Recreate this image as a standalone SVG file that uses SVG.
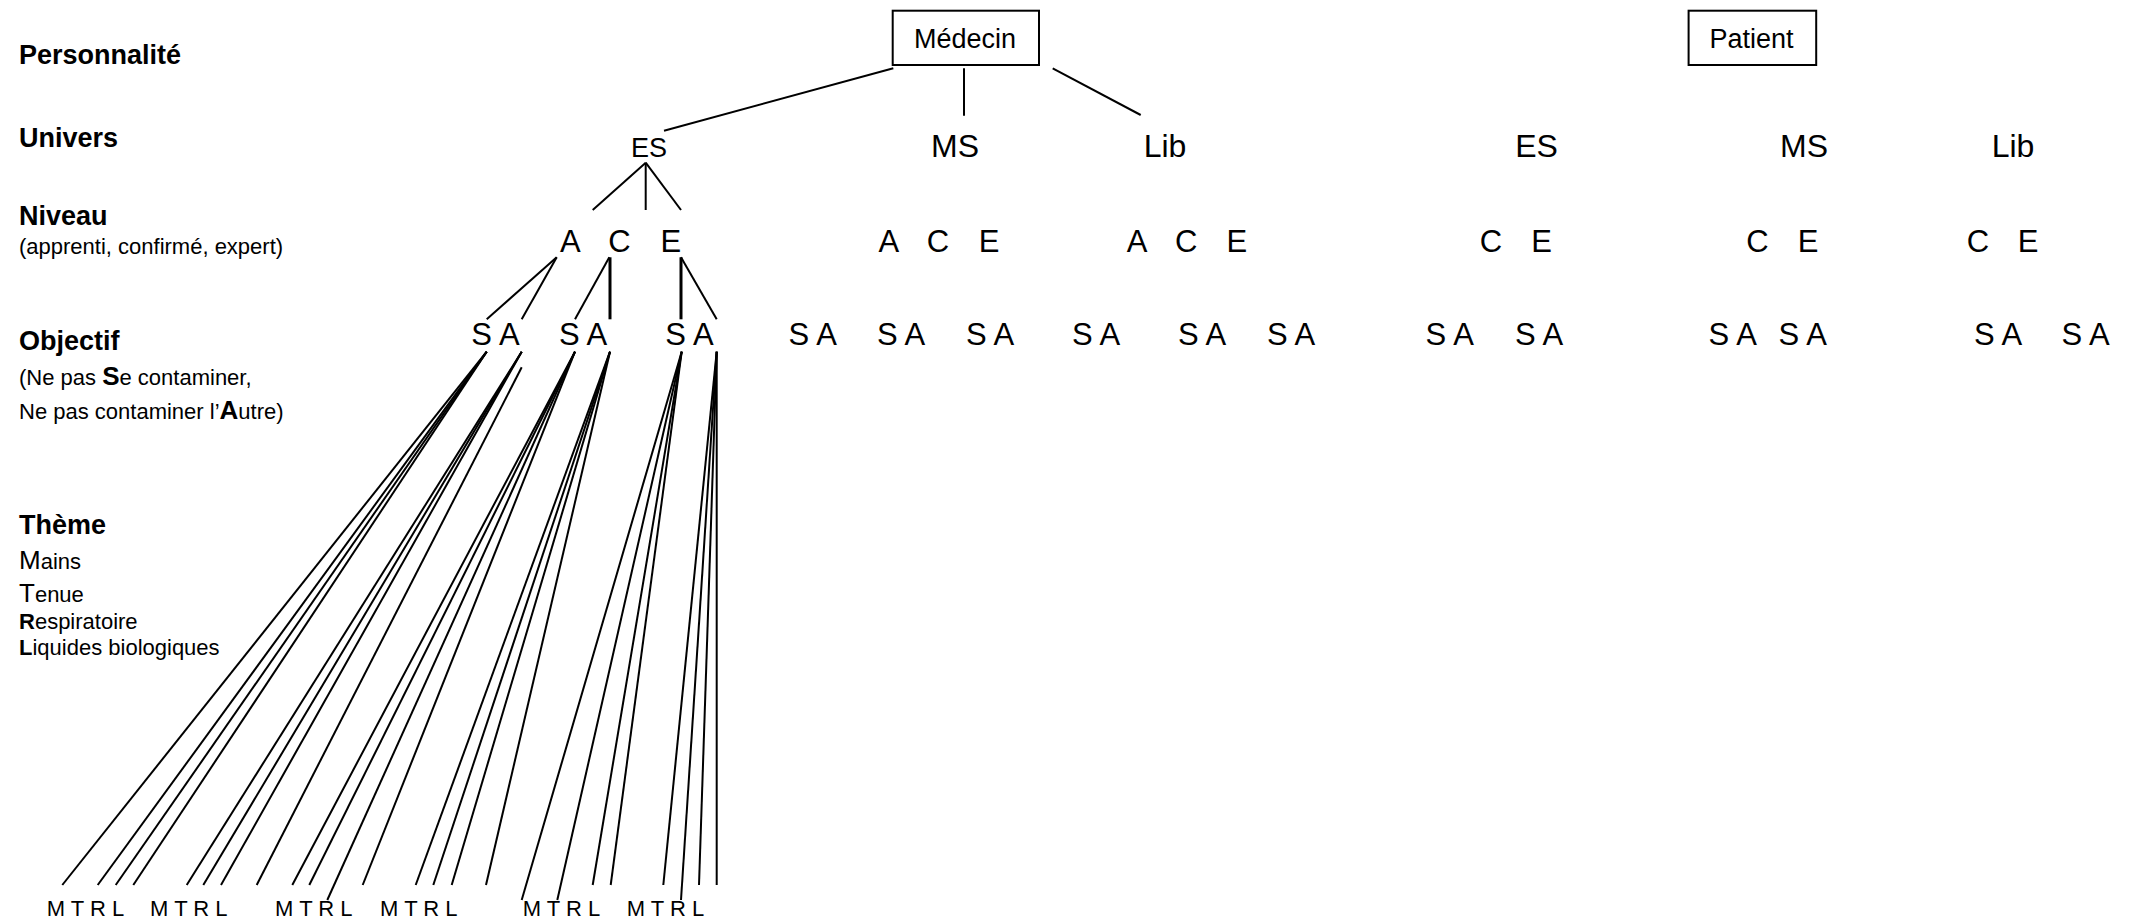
<svg xmlns="http://www.w3.org/2000/svg" width="2140" height="922" viewBox="0 0 2140 922">
<style>
text{font-family:"Liberation Sans",Arial,sans-serif;fill:#000}
.lbl{font-size:27px;font-weight:bold}
.sub{font-size:22px}
.box{font-size:27px;text-anchor:middle}
.u{font-size:32px;text-anchor:middle}
.n{font-size:31px;text-anchor:middle}
.o{font-size:31px}
.t{font-size:22px}
.c line{stroke:#000;stroke-width:2}
.c line.k{stroke-width:3}
.frame{fill:#fff;stroke:#000;stroke-width:2}
</style>
<rect width="2140" height="922" fill="#fff"/>
<g id="labels">
<text class="lbl" x="19" y="63.5">Personnalité</text>
<text class="lbl" x="19" y="146.5">Univers</text>
<text class="lbl" x="19" y="225">Niveau</text>
<text class="sub" x="19" y="253.5">(apprenti, confirmé, expert)</text>
<text class="lbl" x="19" y="350">Objectif</text>
<text class="sub" x="19" y="385">(Ne pas <tspan font-weight="bold" font-size="26">S</tspan>e contaminer,</text>
<text class="sub" x="19" y="418.5">Ne pas contaminer l’<tspan font-weight="bold" font-size="26">A</tspan>utre)</text>
<text class="lbl" x="19" y="534">Thème</text>
<text class="sub" x="19" y="568.5"><tspan font-size="26">M</tspan>ains</text>
<text class="sub" x="19" y="601.5"><tspan font-size="26">T</tspan>enue</text>
<text class="sub" x="19" y="629"><tspan font-weight="bold">R</tspan>espiratoire</text>
<text class="sub" x="19" y="655"><tspan font-weight="bold">L</tspan>iquides biologiques</text>
</g>
<g id="medecin">
<rect class="frame" x="892.7" y="10.7" width="146.3" height="54.3"/>
<text class="box" x="965" y="48.3">Médecin</text>
</g>
<g id="patient">
<rect class="frame" x="1688.6" y="10.7" width="127.6" height="54.3"/>
<text class="box" x="1751.5" y="48.3">Patient</text>
</g>
<g id="med-es"><text x="649" y="156.7" font-size="27" text-anchor="middle">ES</text></g>
<g id="med-ms"><text class="u" x="955" y="156.7">MS</text></g>
<g id="med-lib"><text class="u" x="1165" y="156.7">Lib</text></g>
<g id="pat-es"><text class="u" x="1536.6" y="156.7">ES</text></g>
<g id="pat-ms"><text class="u" x="1804" y="156.7">MS</text></g>
<g id="pat-lib"><text class="u" x="2013" y="156.7">Lib</text></g>
<g id="niveaux">
<text class="n" x="570.3" y="251.7">A</text><text class="n" x="619.5" y="251.7">C</text><text class="n" x="670.8" y="251.7">E</text>
<text class="n" x="888.8" y="251.7">A</text><text class="n" x="938" y="251.7">C</text><text class="n" x="989.2" y="251.7">E</text>
<text class="n" x="1137" y="251.7">A</text><text class="n" x="1186.2" y="251.7">C</text><text class="n" x="1236.8" y="251.7">E</text>
<text class="n" x="1491" y="251.7">C</text><text class="n" x="1541.7" y="251.7">E</text>
<text class="n" x="1757.5" y="251.7">C</text><text class="n" x="1808" y="251.7">E</text>
<text class="n" x="1978" y="251.7">C</text><text class="n" x="2028" y="251.7">E</text>
</g>
<g id="objectifs">
<text class="o" x="471.3" y="345">S A</text>
<text class="o" x="559" y="345">S A</text>
<text class="o" x="665.3" y="345">S A</text>
<text class="o" x="788.6" y="345">S A</text>
<text class="o" x="877" y="345">S A</text>
<text class="o" x="966" y="345">S A</text>
<text class="o" x="1072" y="345">S A</text>
<text class="o" x="1178" y="345">S A</text>
<text class="o" x="1267" y="345">S A</text>
<text class="o" x="1425.6" y="345">S A</text>
<text class="o" x="1515" y="345">S A</text>
<text class="o" x="1708.6" y="345">S A</text>
<text class="o" x="1778.6" y="345">S A</text>
<text class="o" x="1974" y="345">S A</text>
<text class="o" x="2061.4" y="345">S A</text>
</g>
<g id="themes">
<text class="t" x="46.7" y="916">M T R L</text>
<text class="t" x="150.1" y="916">M T R L</text>
<text class="t" x="275.1" y="916">M T R L</text>
<text class="t" x="380.1" y="916">M T R L</text>
<text class="t" x="522.7" y="916">M T R L</text>
<text class="t" x="626.7" y="916">M T R L</text>
</g>
<g id="connectors" class="c">
<line x1="893.3" y1="68.3" x2="664" y2="130.7"/>
<line x1="964" y1="68.3" x2="964" y2="115.7"/>
<line x1="1052.7" y1="68.3" x2="1140.7" y2="115"/>
<line x1="645.7" y1="162.7" x2="592.7" y2="210"/>
<line x1="645.7" y1="162.7" x2="645.7" y2="210"/>
<line x1="645.7" y1="162.7" x2="681" y2="210"/>
<line x1="556.7" y1="257.3" x2="486.7" y2="319.3"/>
<line x1="556.7" y1="257.3" x2="521.7" y2="319.3"/>
<line x1="609.3" y1="257.3" x2="575" y2="319.3"/>
<line class="k" x1="610" y1="257.3" x2="610" y2="319.3"/>
<line class="k" x1="681" y1="257.3" x2="681" y2="319.3"/>
<line x1="681" y1="257.3" x2="716.7" y2="319.3"/>
<line x1="486.7" y1="351.7" x2="62.3" y2="885"/>
<line x1="486.7" y1="351.7" x2="97.7" y2="885"/>
<line x1="486.7" y1="351.7" x2="115.7" y2="885"/>
<line x1="486.7" y1="351.7" x2="133.3" y2="885"/>
<line x1="521.7" y1="351.7" x2="186.7" y2="885"/>
<line x1="521.7" y1="351.7" x2="203.3" y2="885"/>
<line x1="521.7" y1="351.7" x2="221" y2="885"/>
<line x1="521.7" y1="367.3" x2="256.7" y2="885"/>
<line x1="575" y1="351.7" x2="292.3" y2="885"/>
<line x1="575" y1="351.7" x2="309.3" y2="885"/>
<line x1="575" y1="351.7" x2="327.3" y2="900"/>
<line x1="575" y1="351.7" x2="362.7" y2="885"/>
<line x1="610" y1="351.7" x2="415.7" y2="885"/>
<line x1="610" y1="351.7" x2="433.3" y2="885"/>
<line x1="610" y1="351.7" x2="451.7" y2="885"/>
<line x1="610" y1="351.7" x2="486" y2="885"/>
<line x1="681.7" y1="351.7" x2="521.7" y2="900"/>
<line x1="681.7" y1="351.7" x2="557.3" y2="900"/>
<line x1="681.7" y1="351.7" x2="592.7" y2="885"/>
<line x1="681.7" y1="351.7" x2="610.7" y2="885"/>
<line x1="716.7" y1="351.7" x2="663.3" y2="885"/>
<line x1="716.7" y1="351.7" x2="681" y2="900"/>
<line x1="716.7" y1="351.7" x2="699" y2="885"/>
<line x1="716.7" y1="351.7" x2="716.7" y2="885"/>
</g>
</svg>
